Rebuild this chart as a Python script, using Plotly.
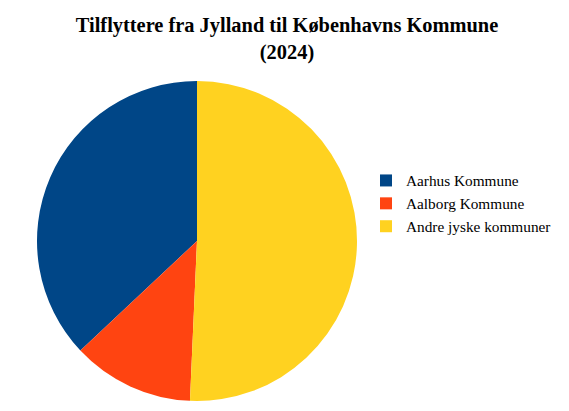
import plotly.graph_objects as go

# data
labels = ["Aarhus Kommune", "Aalborg Kommune", "Andre jyske kommuner"]
values = [3700, 1230, 5070]
colors = ["#004687", "#FF4411", "#FFD220"]

W, H = 569, 411
off = 8  # page body margin

# first slice should start at 12 o'clock and run counterclockwise
start = -360 * values[0] / sum(values)

fig = go.Figure(go.Pie(
	labels=labels,
	values=values,
	marker=dict(colors=colors, line=dict(width=0)),
	sort=False,
	direction="counterclockwise",
	rotation=start,
	textinfo="none",
	hoverinfo="label+value+percent",
	domain=dict(x=[(37 - off) / W, (357 - off) / W],
				y=[(H - 402 + off) / H, (H - 80 + off) / H]),
))

fig.update_layout(
	width=W, height=H,
	margin=dict(l=0, r=0, t=0, b=0),
	paper_bgcolor="white",
	plot_bgcolor="white",
	font=dict(family="Liberation Serif, Times New Roman, serif", color="black"),
	title=dict(
		text="<b>Tilflyttere fra Jylland til Københavns Kommune<br>(2024)</b>",
		x=(287 - off) / W, xanchor="center",
		y=1 - 24 / H, yanchor="top",
		font=dict(size=20.4, family="Liberation Serif, Times New Roman, serif"),
	),
	legend=dict(
		x=(366 - off) / W, xanchor="left",
		y=1 - (164 - off) / H, yanchor="top",
		font=dict(size=15.3),
		itemwidth=30,
		tracegroupgap=0,
	),
)

fig.write_html("out.html")
